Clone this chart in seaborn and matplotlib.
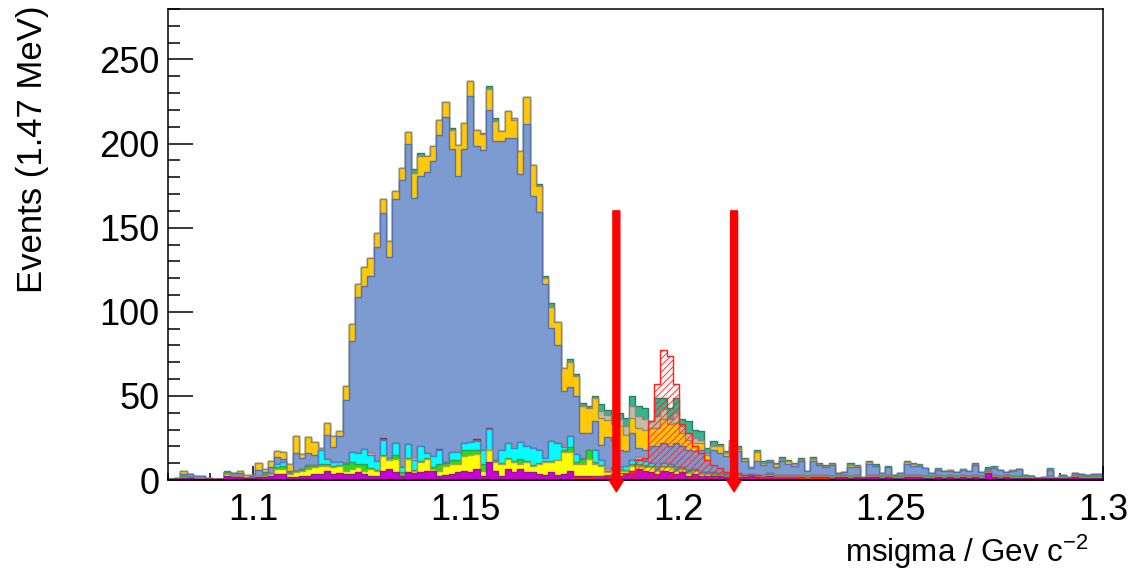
import numpy as np
import pandas as pd
import matplotlib
matplotlib.use("Agg")
import matplotlib.pyplot as plt
import seaborn as sns
from matplotlib.ticker import MultipleLocator, FixedLocator, FixedFormatter

# 150 bins of 1.47 MeV between 1.08 and 1.30
x_lo, x_hi, n_bins = 1.08, 1.30, 150

# stacked background components (bottom -> top), events per bin
crimson = [0.6] * 10 + [0.6] * 10 + [0.6] * 10 + [0.6] * 10 + [0.6] * 10 + \
          [0.6] * 10 + [0.6] * 10 + [0.6] * 10 + [0.6] * 10 + [0.6] * 10 + \
          [0.6] * 10 + [0.6] * 10 + [0.6] * 10 + [0.6] * 10 + [0.6] * 10
magenta = [0, 0, 0.5, 0.5, 0, 0, 0, 0, 0, 2,
           1, 1, 0.5, 0.5, 1, 1, 2, 3, 3, 1,
           1, 2, 2, 3, 3, 5, 3, 3.5, 3, 3,
           4, 3, 2, 2, 5, 6, 4, 1.5, 4, 3.5,
           4, 4.5, 5, 2, 2.5, 3, 4, 5, 4, 6,
           2, 10, 5, 2, 6, 4, 6, 4, 4, 3,
           2.5, 4, 2.5, 3, 5, 2, 2, 2, 1.5, 2,
           1.5, 3, 2, 3, 5, 6, 5, 4, 3, 5,
           4, 3, 4, 2, 3, 2, 2, 1.5, 2, 1,
           1.5, 1, 1, 1.5, 1, 1, 2, 1, 1, 1,
           1, 1, 0.5, 1, 1, 1, 0.5, 1, 1, 0.5,
           1, 0.3, 1, 1, 0.5, 1, 0.5, 0.5, 1, 1,
           1, 0.5, 0.5, 1, 0.5, 1, 0.5, 1, 0.5, 1,
           0.5, 3.5, 1, 0.5, 1, 0.5, 0.5, 0.5, 0.5, 0.3,
           0.3, 0.5, 0.3, 0.5, 0.3, 1, 0.5, 0.5, 0.5, 0.5]
yellow = [0, 0, 0.5, 0, 0, 0, 0, 0, 0, 1,
          0.5, 0.5, 0, 0, 0.5, 1, 1, 3, 3, 2,
          3, 3, 4, 4, 5, 3, 4, 4, 2, 3,
          3, 2, 4, 2.6, 8.5, 5, 8, 1, 8, 1.5,
          6, 7.5, 1, 3, 5.5, 6, 5, 8.5, 10, 8.7,
          3, 7, 5, 7, 6, 6, 3, 6, 4, 6,
          7.5, 6, 8.5, 13, 11, 7, 7, 10, 7.5, 6,
          2.5, 2, 3, 2, 3, 2, 2, 3, 2, 2,
          3, 2, 2, 1.5, 2, 1, 1, 1, 0.5, 1,
          0.5, 0.5, 0.5, 0.5, 0.5, 0.5, 0.5, 0.5, 0.5, 0.5,
          0.5, 0.5, 0.5, 0.5, 0.5, 0.5, 0.5, 0.5, 0.5, 0.5,
          0.5, 0, 0.5, 0.5, 0.5, 0.5, 0.5, 0.5, 0.5, 0.5,
          0.5, 0.5, 0.5, 0.5, 0.5, 0.5, 0.5, 0.5, 0.5, 0.5,
          0.5, 0.5, 0.5, 0.5, 0.5, 0.5, 0.5, 0.5, 0.5, 0,
          0, 0.5, 0, 0.5, 0, 0.5, 0.5, 0.5, 0.5, 0.5]
green = [0, 0, 0.5, 0.5, 0, 0, 0, 0, 0, 1,
         0.5, 0.5, 0, 0, 0.5, 1, 0.5, 1, 2, 0.5,
         0.5, 0.5, 1.5, 1, 1, 1, 1, 1, 4, 4,
         2, 4, 0.5, 0.5, 0.6, 0.5, 2, 1.5, 0.5, 0.5,
         0.5, 0.5, 1, 4, 1.6, 2, 2.4, 3.6, 3, 2.4,
         4, 0.5, 0.5, 0.5, 0.5, 0.5, 3, 0.5, 0.5, 0.5,
         0.5, 0.5, 0.5, 1, 3, 1, 3, 5, 1, 0.5,
         0.5, 1, 1, 0.5, 1, 1, 1.5, 1, 1, 0.5,
         1, 1, 0.5, 1, 0.5, 0.5, 0.5, 1, 0.5, 0.5,
         0.5, 0.5, 0.5, 0.5, 0.5, 0.5, 0.5, 0.5, 0.5, 0.5,
         0.5, 0.5, 0.5, 0.5, 0.5, 0.5, 0.5, 0.5, 0.5, 0.5,
         0.5, 0, 0.5, 0.5, 0.5, 0.5, 0.5, 0.5, 0.5, 0.5,
         0.5, 0.5, 0.5, 0.5, 0.5, 0.5, 0.5, 0.5, 0.5, 0.5,
         0.5, 0.5, 0.5, 0.5, 0.5, 0.5, 0.5, 0.5, 0.5, 0,
         0, 0.5, 0, 0.5, 0, 0.5, 0.5, 0.5, 0.5, 0.5]
cyan = [0, 0, 0, 0, 0, 0, 0, 0, 0, 0,
        0, 0, 0, 0, 0, 0, 0, 2, 2, 0.5,
        0.5, 0.5, 1, 0.5, 8, 3, 2, 1.5, 0.5, 6,
        6.4, 9, 8, 5.4, 9.3, 1, 7.4, 3.4, 8.4, 6,
        9.3, 3, 6.4, 8, 0.4, 5, 4.6, 4, 5, 5.6,
        8, 12, 1, 8, 9, 8, 10, 9, 10, 8,
        2, 12, 10, 2, 6.4, 5, 0.5, 0.5, 7, 3,
        0.5, 1, 1, 2, 2, 3, 2, 1.5, 1, 2,
        1, 1, 0.5, 1, 0.5, 0.5, 0.5, 0.5, 0.5, 0.5,
        0.5, 0.3, 0.3, 0.3, 0.3, 0.3, 0.3, 0.3, 0.3, 0.3,
        0.2, 0.2, 0.2, 0.2, 0.2, 0.2, 0.2, 0.2, 0.2, 0.2,
        0.2, 0, 0.2, 0.2, 0.2, 0.2, 0.2, 0.2, 0.2, 0.2,
        0.2, 0.2, 0.2, 0.2, 0.2, 0.2, 0.2, 0.2, 0.2, 0.2,
        0.2, 0.2, 0.2, 0.2, 0.2, 0.2, 0.2, 0.2, 0.2, 0,
        0, 0.2, 0, 0.2, 0, 0.2, 0.2, 0.2, 0.2, 0.2]
pink = [0] * 30 + \
       [0, 0, 0.8, 0, 0, 0, 0, 0, 0, 0.8,
        0, 0, 0, 0, 0, 0, 0.8, 0, 0, 0,
        0, 0, 0, 0, 0, 0.8, 0, 0, 0, 0,
        0, 0, 0, 0.8, 0, 0, 0, 0, 0, 0,
        0.8, 0, 0, 0, 0, 0.8, 0, 0, 0, 0] + [0] * 70
darkred = [0] * 30 + \
          [0, 0, 0, 0, 0.8, 0, 0, 0, 0, 0,
           0, 0, 0, 0.8, 0, 0, 0, 0, 0, 0.8,
           0, 0.8, 0, 0, 0, 0, 0, 0, 0, 0] + [0] * 90
blue = [0, 0.3, 1.5, 2, 1.6, 1.6, 0.4, 0, 0, 0,
        1.6, 1.5, 0, 1, 3.4, 1, 3.4, 3.9, 1.9, 0.5,
        10.4, 6.4, 6.9, 5.9, 0.5, 14.4, 8.9, 15.4, 37.4, 66.1,
        93, 96.9, 105.4, 127.7, 133.8, 119.3, 145, 170.5, 178.1, 154.5,
        160.1, 166.9, 175.6, 186.9, 204.9, 180, 163.1, 174.9, 205.6, 174.3,
        178.8, 189.3, 189.4, 183.4, 181.5, 183.5, 159.1, 191.4, 149.7, 141.5,
        103.4, 67.5, 57.9, 32.4, 29, 34.4, 14.9, 9.9, 17.4, 8.9,
        19.4, 15.4, 10.4, 8.9, 16.4, 5.4, 6.9, 9.9, 12.4, 11.9,
        10.4, 14.4, 12.4, 11.9, 10.4, 13.4, 7.4, 13.4, 11.9, 10.4,
        15.9, 14.6, 8.6, 3.6, 8.6, 6.1, 6.6, 4.6, 8.1, 6.6,
        5.7, 8.2, 3.2, 8.7, 6.2, 5.2, 6.7, 1.2, 2.2, 5.7,
        5.2, 0.7, 6.7, 5.3, 1.7, 4.7, 0.9, 1.7, 6.7, 5.7,
        5.8, 4.7, 1.7, 3.2, 3.3, 2.4, 2.2, 3.3, 3.3, 6.2,
        2.7, 1.3, 4.2, 3.9, 2.2, 2.9, 4.3, 0.9, 0.3, 0.3,
        0.7, 3.7, 0.3, 0.9, 0.7, 1.2, 1.3, 0.9, 1.3, 1.3]
gold = [0, 0, 2, 0, 0, 0, 0, 0, 0, 0,
        0, 1.4, 1.9, 0.9, 3.9, 1.9, 4, 4, 4, 4.4,
        10, 2.7, 9.6, 7.6, 0.9, 6.6, 6.9, 3.4, 8.5, 9.9,
        7.5, 10.9, 10.9, 7.9, 8.2, 9.9, 4.8, 7, 7.1, 15.4,
        12.4, 9.4, 8.8, 9, 9.1, 11.4, 18.7, 15.7, 9.1, 9.7,
        9.1, 12.5, 11.8, 5.8, 15.8, 10.9, 13.9, 15.9, 18.7, 15,
        3.5, 12, 14.2, 14, 15, 12, 16, 15, 14, 16,
        10, 10, 14, 10, 9, 12, 12, 11, 11, 14,
        13, 12, 8, 6, 5, 4, 3, 2, 4, 2,
        3, 1, 1, 0.5, 5, 1, 1, 2, 1, 2,
        1, 1, 0, 1, 0.5, 0.5, 0.5, 0, 0, 1,
        0.5, 0, 1, 0.5, 0, 0.5, 0, 0, 1, 1,
        0.5, 0, 0, 0.5, 0, 0.5, 0, 0.5, 0, 0.5,
        0, 0, 0.5, 0, 0, 0.5, 0, 0, 0, 0,
        0, 0.5, 0, 0, 0, 0, 0, 0, 0, 0]
tan = [0] * 50 + \
      [0, 0, 0, 0, 0, 1, 0, 0, 0, 0,
       0, 0, 0, 0, 0, 0, 0, 0, 0, 4,
       3, 1, 4, 5, 7, 7, 6, 4, 7, 6,
       3, 6, 4, 4, 3, 2, 1, 1, 0.5, 0.5,
       0.5, 0.5, 0, 0, 0.5, 0, 0, 0, 0.5, 0] + [0] * 50
teal = [0, 0, 0, 0, 0, 0, 0, 0, 0, 0.9,
        0, 0, 0, 0, 0, 0, 0, 0, 0, 0,
        0, 0, 0, 0, 0, 0, 0, 0, 0, 0,
        0, 0, 0, 0, 0, 0, 0, 0, 0, 2,
        1.5, 0, 0, 0, 0, 1.5, 0, 0, 0, 0,
        1, 1.5, 2, 0, 0, 0, 0, 0, 0, 1.5,
        1.5, 2.9, 0, 0, 2, 1, 2, 1, 1, 4,
        3, 2, 4, 5, 6, 6, 7, 0, 11, 7,
        7, 9, 4, 7, 5, 5, 3, 2, 1, 1,
        1, 1, 0.5, 0.5, 1, 1, 0.5, 0.5, 1, 0.5,
        0.5, 1, 0, 1, 0.5, 0.5, 0.5, 0, 0, 1,
        0.5, 0, 1, 1, 0, 0.5, 0, 0, 1, 0.5,
        0.5, 0, 0, 0.5, 0, 0.5, 0.5, 0, 0, 0.5,
        0, 1, 1, 0, 0, 0.5, 0, 0, 0, 0,
        0, 0.5, 0, 0, 0, 0, 0, 0, 0, 0]

# signal MC, drawn hatched on top (not stacked)
signal = [0] * 60 + \
         [0, 0, 0, 0, 0, 1, 1, 1, 2, 2,
          3, 3, 4, 4, 5, 12, 13, 35, 57, 77,
          74, 57, 33, 28, 20, 16, 12, 9, 7, 5,
          4, 4, 3, 3, 3, 2, 2, 2, 2, 2,
          1.5, 1, 1, 1, 1, 1, 0.5, 0.5, 0.5, 0.5] + [0] * 40

# selection window (arrows)
cut_values = [1.1855, 1.2132]
arrow_top = 160
arrow_tip = -7

x_ticks = [1.1, 1.15, 1.2, 1.25, 1.3]
x_tick_labels = ["1.1", "1.15", "1.2", "1.25", "1.3"]
y_ticks = [0, 50, 100, 150, 200, 250]

layers = [
    (crimson, "#d0145a", "#a0103c"),
    (magenta, "#cc00dd", "#8a1a9a"),
    (yellow, "#ffff00", "#b0a040"),
    (green, "#22dd22", "#3a9a50"),
    (cyan, "#00ffff", "#4a80c8"),
    (pink, "#f2b4c6", "#c08898"),
    (darkred, "#c0405a", "#903040"),
    (blue, "#7c9bd0", "#5a6fae"),
    (gold, "#ffc808", "#9a8a5a"),
    (tan, "#c4bca6", "#8c8676"),
    (teal, "#38b58e", "#2a7f66"),
]

sns.set_style("white")
plt.rcParams["font.family"] = ["Liberation Sans", "DejaVu Sans"]
plt.rcParams["mathtext.default"] = "regular"
plt.rcParams["hatch.linewidth"] = 0.6
for key in ["text.color", "axes.labelcolor", "xtick.color", "ytick.color"]:
    plt.rcParams[key] = "black"

edges = np.linspace(x_lo, x_hi, n_bins + 1)
centers = 0.5 * (edges[:-1] + edges[1:])

fig = plt.figure(figsize=(11.32, 5.70), dpi=100)
ax = fig.add_axes([168 / 1132, 90 / 570, 935 / 1132, 471 / 570])

# THStack style: draw cumulative sums from the top layer down
cum = np.cumsum(np.array([np.array(l[0], dtype=float) for l in layers]), axis=0)
for k in range(len(layers) - 1, -1, -1):
    df = pd.DataFrame({"m": centers, "w": cum[k]})
    sns.histplot(data=df, x="m", weights="w", bins=n_bins, binrange=(x_lo, x_hi),
                 element="step", fill=True, facecolor=layers[k][1],
                 edgecolor=layers[k][2], linewidth=1.0, alpha=1, ax=ax)

# hatched signal overlay
plt.rcParams["hatch.color"] = "#ff3030"
df_sig = pd.DataFrame({"m": centers, "w": signal})
sns.histplot(data=df_sig, x="m", weights="w", bins=n_bins, binrange=(x_lo, x_hi),
             element="step", fill=True, facecolor=(1, 0.2, 0.2, 0.05),
             edgecolor="#ff2020", hatch="/////", linewidth=1.0, ax=ax)

for xc in cut_values:
    ax.annotate("", xy=(xc, arrow_tip), xytext=(xc, arrow_top),
                arrowprops=dict(width=5, headwidth=10, headlength=8,
                                color="red", shrink=0),
                annotation_clip=False, zorder=10)

ax.set_xlim(x_lo, x_hi)
ax.set_ylim(0, 280)

ax.xaxis.set_major_locator(FixedLocator(x_ticks))
ax.xaxis.set_major_formatter(FixedFormatter(x_tick_labels))
ax.xaxis.set_minor_locator(MultipleLocator(0.01))
ax.yaxis.set_major_locator(FixedLocator(y_ticks))
ax.yaxis.set_minor_locator(MultipleLocator(10))

ax.tick_params(axis="both", which="both", direction="in", color="black",
               labelcolor="black", width=1.1, top=False, right=False,
               bottom=True, left=True)
ax.tick_params(axis="y", which="major", length=18, labelsize=26, pad=6)
ax.tick_params(axis="y", which="minor", length=8.5)
ax.tick_params(axis="x", which="major", length=10, labelsize=26, pad=9)
ax.tick_params(axis="x", which="minor", length=5)

for s in ax.spines.values():
    s.set_visible(True)
    s.set_color("black")
    s.set_linewidth(1.1)

ax.set_ylabel("Events (1.47 MeV)", fontsize=25, loc="top", color="black")
ax.yaxis.set_label_coords(-0.127, 1.008)
ax.set_xlabel("msigma / Gev c$^{-2}$", fontsize=22.5, loc="right", color="black")
ax.xaxis.set_label_coords(0.984, -0.112)

fig.savefig("out.png", dpi=100)
